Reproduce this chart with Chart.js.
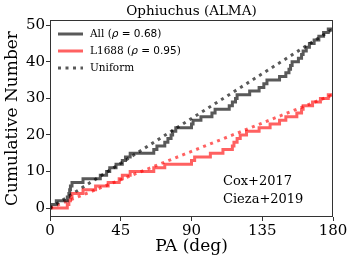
<!DOCTYPE html>
<html>
<head>
<meta charset="utf-8">
<script src="https://cdn.jsdelivr.net/npm/chart.js@4"></script>
<style>
  html, body { margin: 0; padding: 0; background: #fff; }
  #wrap { width: 355px; height: 263px; }
</style>
</head>
<body>
<div id="wrap"><canvas id="chart" width="355" height="263"></canvas></div>
<script>
// sorted position angles (deg), one per source
const allPA = [0.5, 4, 11, 12, 12.5, 13, 14, 21, 32, 36, 38, 42, 46, 48, 51, 66, 68, 73, 75, 77,
  78, 80, 90, 91, 96, 103, 105, 114, 116, 118, 119, 127, 133, 136, 138, 146, 150, 152, 153, 154,
  158, 160, 161, 163, 165, 168, 171, 174, 177];
const l1688PA = [11, 12, 13, 14, 21, 29, 37, 44, 46, 51, 66, 73, 90, 92, 102, 110, 116, 117, 119, 121,
  125, 133, 140, 146, 150, 157, 160, 161, 167, 172, 177];
// uniform expectation end points
const uniformAll = [0, 49];
const uniformL1688 = [0, 31];
const xTicks = [0, 45, 90, 135, 180];
const yTicks = [0, 10, 20, 30, 40, 50];

function cumulative(pa) {
  const pts = [{ x: 0, y: 0 }];
  pa.forEach((v, i) => pts.push({ x: v, y: i + 1 }));
  pts.push({ x: 180, y: pa.length });
  return pts;
}

const SERIF = '"DejaVu Serif", serif';
const SANS = '"DejaVu Sans", sans-serif';
const GRAY = 'rgba(0,0,0,0.65)';
const RED = 'rgba(255,0,0,0.62)';

const decor = {
  id: 'decor',
  afterDraw(chart) {
    const ctx = chart.ctx;
    const a = chart.chartArea;
    ctx.save();
    // frame
    ctx.strokeStyle = '#333';
    ctx.lineWidth = 1;
    ctx.strokeRect(a.left + 0.5, a.top + 0.5, a.right - a.left - 1, a.bottom - a.top - 1);
    // title
    ctx.fillStyle = '#000';
    ctx.textAlign = 'center';
    ctx.textBaseline = 'middle';
    ctx.font = '13.5px ' + SERIF;
    ctx.fillText('Ophiuchus (ALMA)', (a.left + a.right) / 2, 11);
    // legend
    const rows = [
      { pre: 'All (', val: ' = 0.68)', color: GRAY, dash: [] },
      { pre: 'L1688 (', val: ' = 0.95)', color: RED, dash: [] },
      { pre: 'Uniform', val: null, color: GRAY, dash: [3, 4.5] }
    ];
    rows.forEach((r, i) => {
      const y = 34 + i * 17;
      ctx.beginPath();
      ctx.setLineDash(r.dash);
      ctx.strokeStyle = r.color;
      ctx.lineWidth = 3;
      ctx.moveTo(58, y);
      ctx.lineTo(83, y);
      ctx.stroke();
      ctx.setLineDash([]);
      ctx.textAlign = 'left';
      ctx.fillStyle = '#000';
      let x = 90;
      ctx.font = '10.5px ' + SERIF;
      ctx.fillText(r.pre, x, y);
      x += ctx.measureText(r.pre).width;
      if (r.val) {
        ctx.font = 'italic 10.5px ' + SANS;
        ctx.fillText('\u03c1', x, y);
        x += ctx.measureText('\u03c1').width;
        ctx.font = '10.5px ' + SANS;
        const num = r.val.slice(0, -1);
        ctx.fillText(num, x, y);
        x += ctx.measureText(num).width;
        ctx.font = '10.5px ' + SERIF;
        ctx.fillText(')', x, y);
      }
    });
    // references
    ctx.font = '13px ' + SERIF;
    ctx.fillText('Cox+2017', 223, 182);
    ctx.fillText('Cieza+2019', 223, 200);
    ctx.restore();
  }
};

new Chart(document.getElementById('chart'), {
  type: 'line',
  data: {
    datasets: [
      { data: cumulative(allPA), borderColor: GRAY, borderWidth: 3, stepped: 'before', pointRadius: 0 },
      { data: cumulative(l1688PA), borderColor: RED, borderWidth: 3, stepped: 'before', pointRadius: 0 },
      { data: [{ x: 0, y: uniformAll[0] }, { x: 180, y: uniformAll[1] }], borderColor: GRAY, borderWidth: 3, borderDash: [3, 4.5], pointRadius: 0 },
      { data: [{ x: 0, y: uniformL1688[0] }, { x: 180, y: uniformL1688[1] }], borderColor: RED, borderWidth: 3, borderDash: [3, 4.5], pointRadius: 0 }
    ]
  },
  options: {
    responsive: false,
    animation: false,
    layout: { padding: { left: 0, right: 22, top: 20, bottom: 0 } },
    plugins: { legend: { display: false }, tooltip: { enabled: false } },
    scales: {
      x: {
        type: 'linear',
        min: 0,
        max: 180,
        afterBuildTicks: s => { s.ticks = xTicks.map(v => ({ value: v })); },
        afterFit: s => { s.height = 46; },
        grid: { drawOnChartArea: false, tickLength: 4, color: '#333' },
        border: { display: false },
        ticks: { color: '#000', font: { family: SERIF, size: 15 }, padding: 1, maxRotation: 0 },
        title: { display: true, text: 'PA (deg)', color: '#000', font: { family: SERIF, size: 17 }, padding: { top: 6, bottom: 6 } }
      },
      y: {
        type: 'linear',
        min: -2.45,
        max: 51.45,
        afterBuildTicks: s => { s.ticks = yTicks.map(v => ({ value: v })); },
        afterFit: s => { s.width = 50; },
        grid: { drawOnChartArea: false, tickLength: 4, color: '#333' },
        border: { display: false },
        ticks: { color: '#000', font: { family: SERIF, size: 15 }, padding: 1 },
        title: { display: true, text: 'Cumulative Number', color: '#000', font: { family: SERIF, size: 17 }, padding: { top: 2, bottom: 2 } }
      }
    }
  },
  plugins: [decor]
});
</script>
</body>
</html>
